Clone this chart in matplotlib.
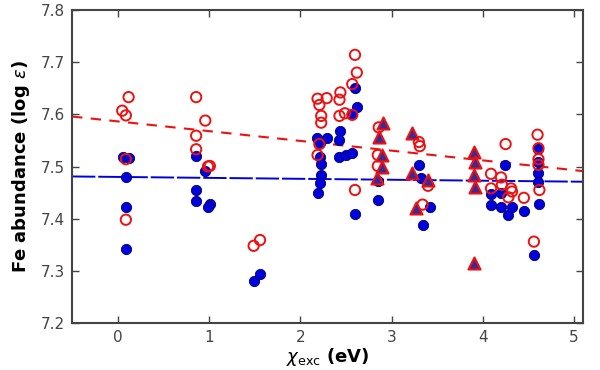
import numpy as np
import matplotlib
matplotlib.use('Agg')
import matplotlib.pyplot as plt

# Blue filled circles
blue_x = [0.06, 0.12, 0.09, 0.09, 0.09,
          0.86, 0.96, 0.86, 0.86, 1.01, 0.99,
          1.49, 1.56,
          2.60, 2.62, 2.57, 2.44, 2.43, 2.18, 2.29, 2.22, 2.22, 2.23, 2.23, 2.22, 2.19,
          2.43, 2.50, 2.57, 2.60, 2.85, 2.85,
          3.30, 3.32, 3.42, 3.34,
          4.24, 4.09, 4.20, 4.09, 4.20, 4.28, 4.32, 4.45,
          4.61, 4.61, 4.61, 4.61, 4.62, 4.56]
blue_y = [7.519, 7.516, 7.479, 7.422, 7.342,
          7.520, 7.492, 7.455, 7.433, 7.428, 7.422,
          7.280, 7.294,
          7.650, 7.615, 7.600, 7.568, 7.551, 7.554, 7.554, 7.545, 7.519, 7.505, 7.484, 7.469, 7.450,
          7.518, 7.522, 7.525, 7.409, 7.435, 7.472,
          7.503, 7.478, 7.423, 7.387,
          7.503, 7.448, 7.450, 7.426, 7.422, 7.407, 7.423, 7.414,
          7.533, 7.509, 7.487, 7.471, 7.428, 7.331]

# Red open circles
red_x = [0.12, 0.05, 0.09, 0.09, 0.09,
         0.86, 0.96, 0.86, 0.86, 1.01, 0.99,
         1.49, 1.56,
         2.60, 2.62, 2.57, 2.19, 2.29, 2.21, 2.44, 2.43, 2.23, 2.23, 2.43, 2.49, 2.57,
         2.21, 2.19, 2.60,
         2.86, 2.85, 2.85,
         3.30, 3.31, 3.40, 3.34,
         4.25, 4.09, 4.20, 4.09, 4.21, 4.31, 4.32, 4.28, 4.45,
         4.60, 4.61, 4.61, 4.61, 4.62, 4.56]
red_y = [7.633, 7.607, 7.598, 7.514, 7.398,
         7.633, 7.588, 7.559, 7.533, 7.501, 7.500,
         7.348, 7.359,
         7.714, 7.680, 7.658, 7.630, 7.631, 7.618, 7.642, 7.628, 7.597, 7.584, 7.597, 7.602, 7.599,
         7.543, 7.522, 7.455,
         7.575, 7.522, 7.501,
         7.547, 7.539, 7.463, 7.427,
         7.543, 7.486, 7.479, 7.458, 7.465, 7.458, 7.452, 7.441, 7.440,
         7.561, 7.535, 7.514, 7.503, 7.455, 7.356]

# Triangles
tri_x = [2.91, 2.86, 2.90, 2.90, 2.84, 3.23, 3.23, 3.40, 3.27, 3.90, 3.91, 3.90, 3.91, 3.90]
tri_y = [7.583, 7.557, 7.522, 7.500, 7.478, 7.565, 7.487, 7.474, 7.420, 7.527, 7.509, 7.484, 7.460, 7.315]

# fitted trends (intercept, slope)
red_fit = (7.5865, -0.0187)
blue_fit = (7.480, -0.0018)

fig = plt.figure(figsize=(6, 3.7), dpi=100)
ax = fig.add_axes([0.12, 0.127, 0.852, 0.846])

xl = np.array([-0.5, 5.1])
ax.plot(xl, blue_fit[0] + blue_fit[1] * xl, color='#0000dd', lw=1.4, dashes=(12, 1.5), zorder=1)
ax.plot(xl, red_fit[0] + red_fit[1] * xl, color='#ee1111', lw=1.5, dashes=(5, 4), zorder=1)

ax.scatter(blue_x, blue_y, s=55, facecolor='#0000dd', edgecolor='#000060', lw=0.6, zorder=2)
ax.scatter(red_x, red_y, s=55, facecolor='none', edgecolor='#ee1111', lw=1.4, zorder=3)
ax.scatter(tri_x, tri_y, s=75, marker='^', facecolor='#3a2a96', edgecolor='#ee1111', lw=1.5, zorder=4)

ax.set_xlim(-0.5, 5.1)
ax.set_ylim(7.2, 7.8)
ax.set_xticks([0, 1, 2, 3, 4, 5])
ax.set_yticks([7.2, 7.3, 7.4, 7.5, 7.6, 7.7, 7.8])
ax.set_yticklabels(['7.2', '7.3', '7.4', '7.5', '7.6', '7.7', '7.8'])
ax.tick_params(direction='in', top=True, right=True, length=5, width=1, color='#444444',
               labelsize=11, labelcolor='#444444', pad=5)
for s in ax.spines.values():
    s.set_linewidth(1.5)
    s.set_color('#444444')

ax.set_ylabel(r'Fe abundance (log $\epsilon$)', fontsize=13, fontweight='bold', labelpad=6)
ax.set_xlabel(r'$\chi_{\rm exc}$ (eV)', fontsize=13, fontweight='bold', labelpad=1)

fig.savefig('out.png', dpi=100)
